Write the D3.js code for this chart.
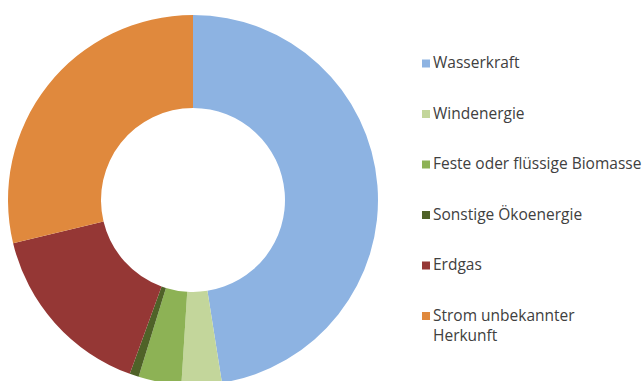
<!DOCTYPE html>
<html>
<head>
<meta charset="utf-8">
<script src="https://cdn.jsdelivr.net/npm/d3@7"></script>
<style>
  html, body { margin: 0; padding: 0; background: #fff; }
  svg { display: block; }
  .legend text { font-family: "Open Sans", sans-serif; font-size: 15.5px; fill: #404040; }
</style>
</head>
<body>
<svg id="chart" width="643" height="381"></svg>
<script>
// Stromkennzeichnung: Anteile der Energieträger (in %)
const categories = [
  "Wasserkraft",
  "Windenergie",
  "Feste oder flüssige Biomasse",
  "Sonstige Ökoenergie",
  "Erdgas",
  "Strom unbekannter Herkunft"
];
const shares = [47.5, 3.5, 3.75, 0.8, 15.7, 28.75];
const colors = ["#8db3e2", "#c3d69b", "#8db255", "#4f6228", "#953735", "#e0893d"];
// Legend labels, split onto lines
const legendLines = [
  ["Wasserkraft"],
  ["Windenergie"],
  ["Feste oder flüssige Biomasse"],
  ["Sonstige Ökoenergie"],
  ["Erdgas"],
  ["Strom unbekannter", "Herkunft"]
];

const svg = d3.select("#chart");
const cx = 193, cy = 200, outerR = 185, innerR = 92;

const color = d3.scaleOrdinal().domain(categories).range(colors);

const pie = d3.pie().sort(null).value(d => d.value);
const arc = d3.arc().innerRadius(innerR).outerRadius(outerR);

const data = categories.map((c, i) => ({ name: c, value: shares[i] }));

svg.append("g")
  .attr("transform", `translate(${cx},${cy})`)
  .selectAll("path")
  .data(pie(data))
  .join("path")
  .attr("d", arc)
  .attr("fill", d => color(d.data.name));

// Legend
const legendY = d3.scalePoint().domain(categories).range([68, 320.5]);
const legend = svg.append("g").attr("class", "legend");
const item = legend.selectAll("g")
  .data(categories)
  .join("g")
  .attr("transform", d => `translate(0,${legendY(d)})`);

item.append("rect")
  .attr("x", 422).attr("y", -8.5)
  .attr("width", 8).attr("height", 8)
  .attr("fill", d => color(d));

item.append("text")
  .attr("x", 433)
  .selectAll("tspan")
  .data((d, i) => legendLines[i])
  .join("tspan")
  .attr("x", 433)
  .attr("dy", (d, j) => j === 0 ? 0 : 20)
  .text(d => d);
</script>
</body>
</html>
